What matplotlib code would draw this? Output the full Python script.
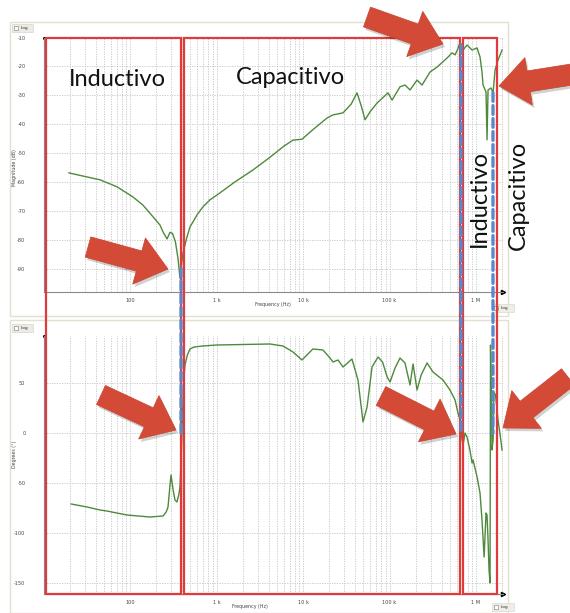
import numpy as np
import matplotlib
matplotlib.use("Agg")
import matplotlib.pyplot as plt
from matplotlib import transforms as mtransforms
from matplotlib.patches import Rectangle, FancyArrow
from matplotlib.patches import ConnectionPatch
from matplotlib.ticker import FixedLocator, LogLocator, NullFormatter

W, H, DPI = 570, 613, 100

# ---------------- data ----------------
mag_freq = [19.7, 28.6, 45, 70.8, 108, 141, 185, 222, 241, 268, 290, 310, 335, 360, 378,
            393, 410, 432, 456, 494, 550, 595, 698, 841, 1097, 1600, 2640, 4200, 6000,
            7660, 9730, 13000, 18900, 22200, 29000, 36000, 42100, 47000, 52100, 60000,
            71800, 96100, 106900, 132200, 151000, 172600, 208000, 237600, 294000, 354000,
            462000, 528000, 572000, 615000, 653000, 708000, 787000, 900000, 1.028e6,
            1.112e6, 1.172e6, 1.205e6, 1.305e6, 1.340e6, 1.377e6, 1.49e6, 1.574e6,
            1.66e6, 1.796e6, 2.0e6]
mag_db = [-56.7, -57.8, -59.1, -61.5, -65.0, -67.8, -71.9, -74.7, -77.1, -79.5, -77.2,
          -77.6, -80.5, -86.5, -93.0, -88.4, -84.3, -81.6, -78.8, -75.3, -73.0, -71.2,
          -68.4, -66.0, -63.6, -60.0, -55.7, -51.2, -47.5, -45.4, -45.1, -41.8, -37.8,
          -36.7, -36.0, -33.0, -29.1, -33.5, -38.4, -35.5, -32.6, -29.1, -31.6, -27.0,
          -26.4, -28.1, -24.7, -26.4, -21.9, -20.2, -17.1, -15.3, -16.0, -14.0, -11.6,
          -14.3, -12.6, -14.3, -13.6, -16.7, -21.9, -26.4, -28.8, -45.3, -28.1, -27.4,
          -29.1, -21.2, -17.8, -14.3]

ph_freq = [20.9, 31.8, 45, 54, 92, 170, 241, 262, 275, 290, 298, 315, 331, 349, 366,
           378, 389, 399, 410, 420, 432, 460, 494, 550, 698, 1000, 4150, 5870, 7660,
           9730, 13000, 17000, 20500, 22200, 25400, 29000, 36800, 43200, 49400, 55000,
           62800, 73600, 83000, 94000, 101400, 115800, 132200, 151000, 172600, 187000,
           208000, 232000, 271500, 318000, 415000, 500000, 572000, 615000, 653000,
           689000, 708000, 746000, 787000, 850000, 900000, 923000, 1.028e6, 1.112e6,
           1.172e6, 1.24e6, 1.305e6, 1.34e6, 1.377e6, 1.414e6, 1.452e6, 1.47e6, 1.51e6,
           1.53e6, 1.574e6, 1.61e6, 1.68e6, 1.796e6, 1.9e6, 2.0e6]
ph_deg = [-71, -74, -77, -78, -82, -84, -83, -79, -74, -52, -42, -57, -67, -69, -62,
          -54, -27, 0, 33, 55, 68, 78, 84, 86, 87, 88, 89, 87, 81,
          73, 84, 83, 75, 71, 73, 66, 74, 53, 11, 26,
          66, 76, 71, 56, 51, 65, 75, 70, 48, 69,
          43, 58, 70, 61, 53, 43, 33, 21, 13,
          -7, -12, 0, -4, -17, -30, -27, -44, -60,
          -87, -124, -80, -82, -107, -137, -150, 88, 33,
          -17, -7, 41, 38, 13, -2, -17]

mag_ticks = [-10, -20, -30, -40, -50, -60, -70, -80, -90]
ph_ticks = [50, 0, -50, -100, -150]
freq_ticks = [100, 1e3, 1e4, 1e5, 1e6]
freq_labels = ["100", "1 k", "10 k", "100 k", "1 M"]

# region boundaries (Hz) and resonance frequencies
region_edges = [(10.7, 389), (421, 653e3), (708e3, 1.75e6)]
resonances = [389, 671e3, 1.57e6]

# ---------------- figure ----------------
fig = plt.figure(figsize=(W / DPI, H / DPI), dpi=DPI)
fig.patch.set_facecolor("white")
PX = mtransforms.Affine2D().scale(1 / DPI, -1 / DPI).translate(0, H / DPI) + fig.dpi_scale_trans


def axpos(x0, y0, x1, y1):
    return [x0 / W, 1 - y1 / H, (x1 - x0) / W, (y1 - y0) / H]


XL = (10.0, 2.05e6)
GRID = "#c4c4c4"
CURVE = "#4d8a3c"

# panel chrome
for (y0, y1) in [(22, 316), (320, 613)]:
    fig.add_artist(Rectangle((10, y0), 498, y1 - y0, transform=PX, fill=False,
                             ec="#e4e0cf", lw=1.0))
for yb in [24, 324]:
    fig.add_artist(Rectangle((12, yb), 21, 8, transform=PX, fc="#ecebe4", ec="#d8d6cc", lw=0.5))
    fig.add_artist(Rectangle((14, yb + 2), 4, 4, transform=PX, fc="white", ec="#777", lw=0.4))
    fig.text(20.5 / W, 1 - (yb + 4.2) / H, "Log", fontsize=3.2, va="center", color="#333")
for yb in [304, 603]:
    fig.add_artist(Rectangle((492, yb), 22, 8, transform=PX, fc="#efeee6", ec="#dcdad0", lw=0.5))
    fig.add_artist(Rectangle((494, yb + 2), 4, 4, transform=PX, fc="white", ec="#777", lw=0.4))
    fig.text(500.5 / W, 1 - (yb + 4.2) / H, "Log", fontsize=3.2, va="center", color="#333")


def style(ax, yticks):
    ax.set_xscale("log")
    ax.set_xlim(*XL)
    for s in ["top", "right"]:
        ax.spines[s].set_visible(False)
    for s in ["left", "bottom"]:
        ax.spines[s].set_color("#8a8a8a")
        ax.spines[s].set_linewidth(0.8)
    ax.xaxis.set_major_locator(FixedLocator(freq_ticks))
    ax.xaxis.set_minor_locator(LogLocator(base=10, subs=np.arange(2, 10), numticks=20))
    ax.xaxis.set_minor_formatter(NullFormatter())
    ax.set_xticklabels(freq_labels)
    ax.yaxis.set_major_locator(FixedLocator(yticks))
    ax.set_yticklabels([str(t) for t in yticks])
    ax.tick_params(axis="both", which="both", length=0, labelsize=3.6, labelcolor="#444")
    ax.tick_params(axis="y", pad=13)
    ax.tick_params(axis="x", pad=4)
    ax.grid(True, which="major", axis="both", color=GRID, ls=(0, (1.5, 1.5)), lw=0.6)
    ax.grid(True, which="minor", axis="x", color=GRID, ls=(0, (1.5, 1.5)), lw=0.6)
    ax.set_axisbelow(True)
    ax.plot([1.0], [0.0], marker=">", ms=3, color="black", transform=ax.transAxes, clip_on=False)
    ax.plot([0.0], [1.0], marker="o", ms=1.2, color="black", transform=ax.transAxes, clip_on=False)


ax1 = fig.add_axes(axpos(43.5, 37.5, 503, 292))
ax1.set_ylim(-97.8, -10)
style(ax1, mag_ticks)
ax1.plot(mag_freq, mag_db, color=CURVE, lw=1.0)
ax1.set_xlabel("Frequency (Hz)", fontsize=3.4, color="#444")
ax1.xaxis.set_label_coords(0.5, -0.04)
ax1.set_ylabel("Magnitude (dB)", fontsize=3.4, color="#444")
ax1.yaxis.set_label_coords(-0.058, 0.49)

ax2 = fig.add_axes(axpos(43.5, 336, 503, 594))
ax2.set_ylim(-161, 97)
style(ax2, ph_ticks)
ax2.plot(ph_freq, ph_deg, color=CURVE, lw=1.0)
ax2.set_xlabel("Frequency (Hz)", fontsize=3.4, color="#444")
ax2.xaxis.set_label_coords(0.45, -0.04)
ax2.set_ylabel("Degrees (°)", fontsize=3.4, color="#444")
ax2.yaxis.set_label_coords(-0.058, 0.54)

# red region rectangles spanning both panels
top_f = ax1.get_position().y1
bot_f = ax2.get_position().y0
bt = mtransforms.blended_transform_factory(ax1.transData, fig.transFigure)
for (a, b) in region_edges:
    fig.add_artist(Rectangle((a, bot_f), b - a, top_f - bot_f, transform=bt,
                             fill=False, ec="#e03a3a", lw=1.6, zorder=5))

# blue dashed resonance lines (from magnitude curve down to zero phase)
for f in resonances:
    m = np.interp(np.log10(f), np.log10(mag_freq), mag_db)
    cp = ConnectionPatch(xyA=(f, m), coordsA=ax1.transData, xyB=(f, 0), coordsB=ax2.transData,
                         color="#5b88c9", lw=2.4, ls=(0, (2.6, 1.3)), zorder=6)
    fig.add_artist(cp)

# annotation texts
fig.text(117 / W, 1 - 79 / H, "Inductivo", fontsize=17, family="Lato", ha="center", va="center", color="#111")
fig.text(290 / W, 1 - 78 / H, "Capacitivo", fontsize=17, family="Lato", ha="center", va="center", color="#111")
fig.text(479 / W, 1 - 198 / H, "Inductivo", fontsize=17, family="Lato", rotation=90, ha="center", va="center", color="#111")
fig.text(518 / W, 1 - 195 / H, "Capacitivo", fontsize=17, family="Lato", rotation=90, ha="center", va="center", color="#111")

# red block arrows (tail -> tip, pixel coordinates)
arrows = [((88, 247), (168, 269)), ((101, 395), (176, 430)), ((367, 17), (443, 44)),
          ((575, 74), (499, 86)), ((381, 396), (456, 434)), ((568, 377), (503, 428))]
for (t, p) in arrows:
    dx, dy = p[0] - t[0], p[1] - t[1]
    sh = FancyArrow(t[0] + 2, t[1] + 3, dx, dy, width=21, head_width=48, head_length=30,
                    length_includes_head=True, transform=PX, fc="#000000", ec="none",
                    alpha=0.18, zorder=7)
    fig.add_artist(sh)
    ar = FancyArrow(t[0], t[1], dx, dy, width=21, head_width=48, head_length=30,
                    length_includes_head=True, transform=PX, fc="#d34b37", ec="#c8442f",
                    lw=0.5, zorder=8)
    fig.add_artist(ar)

fig.savefig("out.png", dpi=DPI, facecolor="white")
